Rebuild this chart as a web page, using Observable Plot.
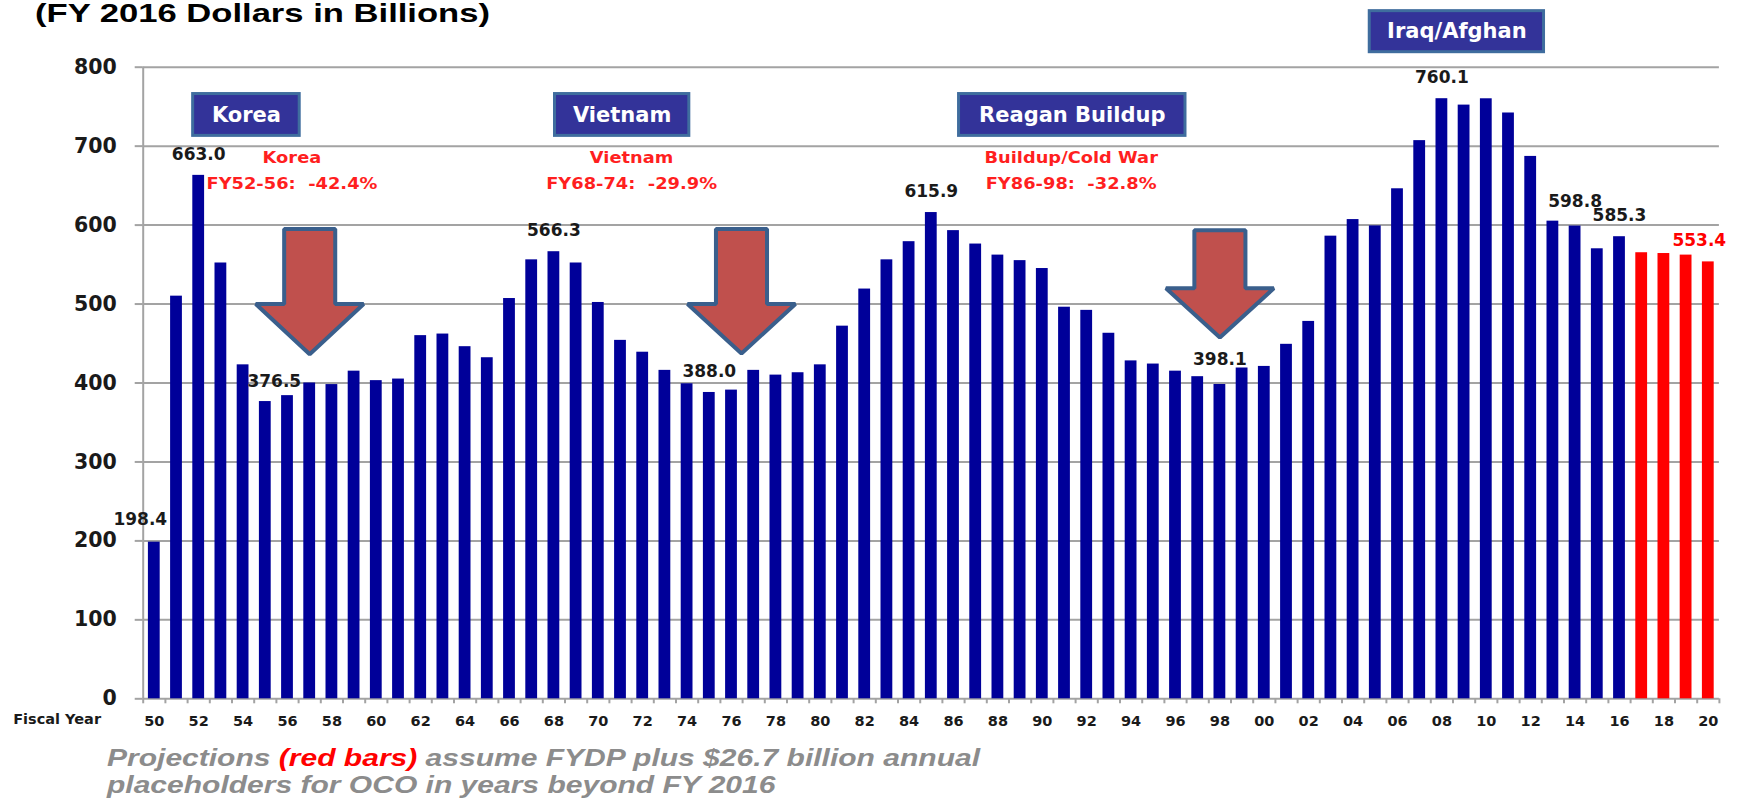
<!DOCTYPE html>
<html><head><meta charset="utf-8">
<script src="https://cdn.jsdelivr.net/npm/d3@7"></script>
<script src="https://cdn.jsdelivr.net/npm/@observablehq/plot@0.6"></script>
<style>
html,body{margin:0;padding:0;background:#fff;width:1737px;height:799px;overflow:hidden;}
#wrap{position:relative;width:1737px;height:799px;}
#chart{position:absolute;left:0;top:0;}
#title{position:absolute;left:35px;top:0px;font:bold 26px "Liberation Sans",Arial,sans-serif;line-height:26px;white-space:nowrap;color:#000;transform-origin:0 0;}
#caption{position:absolute;left:107px;top:744px;font:italic bold 24px "Liberation Sans",Arial,sans-serif;line-height:27px;color:#8c8c8c;white-space:nowrap;transform-origin:0 0;}
#caption .red{color:#ff0000;}
#chart svg text{font-weight:700;}
</style></head>
<body><div id="wrap">
<div id="chart"></div>
<div id="title"><span id="titleText">(FY 2016 Dollars in Billions)</span></div>
<div id="caption"><div><span id="cap1">Projections <span class="red">(red bars)</span> assume FYDP plus $26.7 billion annual</span></div><div>placeholders for OCO in years beyond FY 2016</div></div>
</div>
<script>
// ---- data ----
const years = d3.range(1950, 2021);
const actualSpending = [
  198.4, 510, 663.0, 552, 423, 376.5, 384, 400, 398, 415,
  403, 405, 460, 462, 446, 432, 507, 556, 566.3, 552,
  502, 454, 439, 416, 399, 388.0, 391, 416, 410, 413,
  423, 472, 519, 556, 579, 615.9, 593, 576, 562, 555,
  545, 496, 492, 463, 428, 424, 415, 408, 398.1, 419,
  421, 449, 478, 586, 607, 599, 646, 707, 760.1, 752,
  760, 742, 687, 605, 598.8, 570, 585.3
];
const projectedSpending = [565, 564, 562, 553.4];
const firstProjectedYear = 2017;
const yTicks = [0, 100, 200, 300, 400, 500, 600, 700, 800];
const xTickLabelYears = d3.range(1950, 2021, 2);

const eraLabels = ["Korea", "Vietnam", "Reagan Buildup", "Iraq/Afghan"];
const eraFrom = [1951.75, 1968.05, 1986.25, 2004.75];
const eraTo = [1956.55, 1974.1, 1996.45, 2012.6];
const eraTop = [766, 766, 766, 871];
const eraBottom = [713, 713, 713, 819];

const declineTitles = ["Korea", "Vietnam", "Buildup/Cold War"];
const declineRanges = ["FY52-56:\u00a0 -42.4%", "FY68-74:\u00a0 -29.9%", "FY86-98:\u00a0 -32.8%"];
const declineNoteYear = [1956.2, 1971.5, 1991.3];
const declineTitleValue = 685.6;
const declineRangeValue = 652.7;

const arrowYear = [1957, 1976.45, 1998];
const arrowTop = [595, 595, 593.5];
const arrowNeck = [500, 500, 520];
const arrowTip = [436.5, 437.4, 457.6];

// ---- build ----
const spending = actualSpending.concat(projectedSpending);
const data = years.map((year, i) => ({year, value: spending[i], projected: year >= firstProjectedYear}));
const eras = eraLabels.map((label, i) => ({label, from: eraFrom[i], to: eraTo[i], top: eraTop[i], bottom: eraBottom[i]}));
const notes = declineTitles.map((t, i) => ({title: t, range: declineRanges[i], x: declineNoteYear[i]}));
const SHAFT = 1.15, HEAD = 2.43;
const arrowPts = arrowYear.flatMap((c, i) => [
  [c - SHAFT, arrowTop[i]], [c + SHAFT, arrowTop[i]], [c + SHAFT, arrowNeck[i]], [c + HEAD, arrowNeck[i]],
  [c, arrowTip[i]], [c - HEAD, arrowNeck[i]], [c - SHAFT, arrowNeck[i]]
].map(([x, y]) => ({id: i, x, y})));

const BLUE = "#000099", RED = "#ff0000", GRID = "#a3a3a3", INK = "#1a1a1a", NOTE = "#ff1f1f";
const FONT = "DejaVu Sans, Verdana, sans-serif";

const valueLabels = (ys, dx, dy) => Plot.text(data.filter(d => ys.includes(d.year)), {
  x: "year", y: "value", text: d => d.value.toFixed(1), dx, dy,
  fill: d => d.projected ? RED : INK, fontSize: 17, fontWeight: "bold", fontFamily: FONT
});

const chart = Plot.plot({
  width: 1737, height: 740,
  marginLeft: 142.7, marginRight: 18.1, marginTop: 66.7, marginBottom: 41.7,
  style: {background: "transparent", fontFamily: FONT, overflow: "visible"},
  x: {type: "linear", domain: [1949.5, 2020.5], axis: null},
  y: {domain: [0, 800], axis: null},
  color: {type: "identity"},
  marks: [
    Plot.ruleY(yTicks, {stroke: GRID, strokeWidth: 2}),
    Plot.ruleX([1949.5], {stroke: GRID, strokeWidth: 2}),
    Plot.axisY({ticks: yTicks, tickSize: 8, tickPadding: 18.5, stroke: GRID, strokeWidth: 2, strokeOpacity: 1,
      fill: INK, fontSize: 20.5, fontFamily: FONT, fontWeight: "bold", label: null}),
    Plot.axisX({ticks: d3.range(1949.5, 2021, 1), tickSize: 5, tickFormat: () => "", stroke: GRID, strokeWidth: 2, strokeOpacity: 1, label: null}),
    Plot.axisX({ticks: xTickLabelYears, tickSize: 0, tickPadding: 17, tickFormat: d => String(d % 100).padStart(2, "0"),
      fill: INK, fontSize: 14.5, fontFamily: FONT, fontWeight: "bold", label: null}),
    Plot.text(["Fiscal Year"], {frameAnchor: "bottom-left", textAnchor: "start", lineAnchor: "middle", dx: -130, dy: 20.5,
      fill: INK, fontSize: 14.5, fontFamily: FONT, fontWeight: "bold"}),
    Plot.rect(data, {x1: d => d.year - 0.5, x2: d => d.year + 0.5, y1: 0, y2: "value", insetLeft: 5.2, insetRight: 5.2,
      fill: d => d.projected ? RED : BLUE}),
    Plot.line(arrowPts, {x: "x", y: "y", z: "id", fill: "#c0504d", stroke: "#3a5f8c", strokeWidth: 4,
      curve: "linear-closed", strokeLinejoin: "miter"}),
    Plot.rect(eras, {x1: "from", x2: "to", y1: "bottom", y2: "top", fill: "#333399", stroke: "#3f6d9e", strokeWidth: 3}),
    Plot.text(eras, {x: d => (d.from + d.to) / 2, y: d => (d.top + d.bottom) / 2, text: "label", fill: "white",
      fontSize: 21, fontWeight: "bold", fontFamily: FONT}),
    Plot.text(notes, {x: "x", y: () => declineTitleValue, text: "title", fill: NOTE, fontSize: 16, fontWeight: "bold",
      fontFamily: FONT, className: "decline-note", ariaLabel: "decline-note"}),
    Plot.text(notes, {x: "x", y: () => declineRangeValue, text: "range", fill: NOTE, fontSize: 16, fontWeight: "bold",
      fontFamily: FONT, className: "decline-note", ariaLabel: "decline-note"}),
    valueLabels([1952, 1968, 1975, 1985, 2008, 2016], 0, -21),
    valueLabels([1998, 2014], 0, -25),
    valueLabels([1950], -14, -23),
    valueLabels([1955], 9, -20),
    valueLabels([2020], -9, -21)
  ]
});
document.getElementById("chart").appendChild(chart);

// the source slide is stretched horizontally; widen the red notes to match
(function stretchNotes() {
  const texts = Array.from(chart.querySelectorAll('g.decline-note text, g[aria-label="decline-note"] text'))
    .filter((t, i, a) => a.indexOf(t) === i);
  const sample = texts.find(t => t.textContent.startsWith("FY52"));
  if (!sample) return;
  const k = 171 / sample.getComputedTextLength();
  texts.forEach(t => {
    const tr = t.getAttribute("transform");
    if (tr) t.setAttribute("transform", tr + ` scale(${k},1)`);
    else {
      const x = +t.getAttribute("x") || 0;
      t.setAttribute("transform", `translate(${x},0) scale(${k},1) translate(${-x},0)`);
    }
  });
})();

function fitWidth(measureEl, scaleEl, target) {
  const w = measureEl.getBoundingClientRect().width;
  scaleEl.style.transform = `scaleX(${target / w})`;
}
fitWidth(document.getElementById("titleText"), document.getElementById("title"), 455);
fitWidth(document.getElementById("cap1"), document.getElementById("caption"), 873);
</script>
</body></html>
